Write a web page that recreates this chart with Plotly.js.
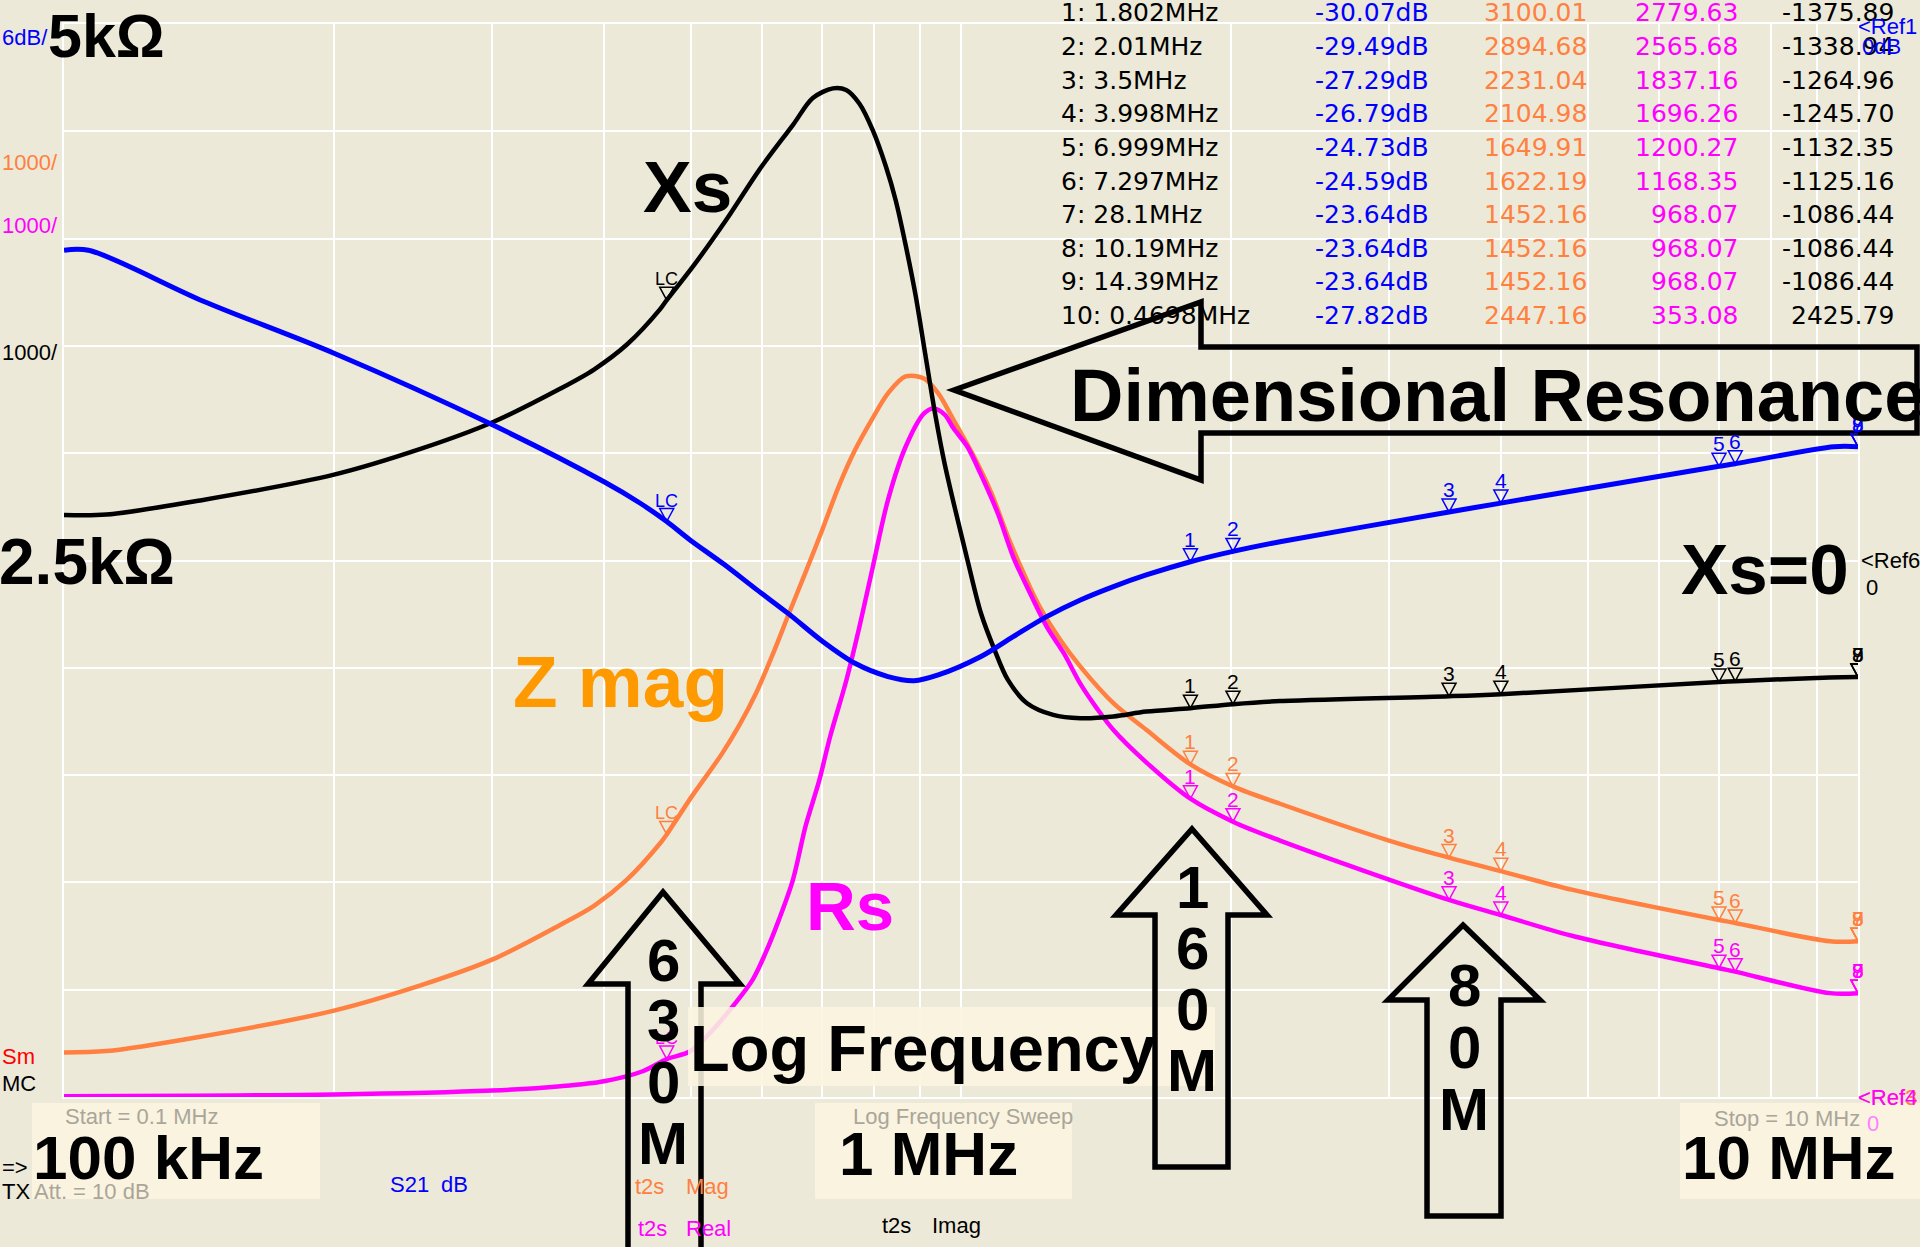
<!DOCTYPE html>
<html><head><meta charset="utf-8">
<script src="https://cdn.plot.ly/plotly-3.0.1.min.js"></script>
<style>html,body{margin:0;padding:0;background:#ECE9D8;}#chart{width:1920px;height:1247px;}</style>
</head><body><div id="chart"></div>
<script>
// ---------------- data ----------------
const FREQ_S21 = [0.1, 0.1065, 0.143, 0.2, 0.3, 0.4, 0.439, 0.4698, 0.4988, 0.5437, 0.5908, 0.6431, 0.7, 0.7618, 0.829, 0.8865, 0.9433, 1.0526, 1.1433, 1.246, 1.3587, 1.479, 1.609, 1.802, 2.01, 2.268, 3.5, 3.998, 6.999, 7.297, 9.4, 10];
const S21_DB   = [-12.65, -12.65, -15.5, -18.41, -22.4, -25.6, -26.8, -27.82, -28.85, -30.2, -31.6, -33.0, -34.5, -35.75, -36.49, -36.72, -36.4, -35.37, -34.26, -33.14, -32.21, -31.46, -30.81, -30.07, -29.49, -28.95, -27.29, -26.79, -24.73, -24.59, -23.64, -23.64];

const FREQ_ZMAG = [0.1, 0.1115, 0.1419, 0.2, 0.2497, 0.3, 0.3577, 0.3898, 0.4245, 0.4622, 0.4698, 0.5, 0.5415, 0.5665, 0.5908, 0.6164, 0.6431, 0.6709, 0.7, 0.7303, 0.7618, 0.7948, 0.829, 0.8675, 0.9095, 0.9433, 0.9813, 1.034, 1.0815, 1.128, 1.1745, 1.2235, 1.2905, 1.3587, 1.4786, 1.609, 1.802, 2.01, 2.268, 3.0, 3.5, 3.998, 4.81, 6.999, 7.297, 9.3, 10];
const ZMAG_OHM  = [415, 428, 562, 805, 1040, 1280, 1606, 1782, 2028, 2367, 2447, 2790, 3200, 3470, 3763, 4120, 4508, 4890, 5280, 5687, 6029, 6308, 6557, 6715, 6696, 6557, 6308, 5966, 5626, 5222, 4881, 4570, 4260, 4011, 3670, 3422, 3100, 2895, 2733, 2390, 2231, 2105, 1930, 1650, 1622, 1452, 1452];

const FREQ_RS = [0.1, 0.2, 0.3, 0.3577, 0.4, 0.4418, 0.4698, 0.4991, 0.525, 0.5566, 0.5859, 0.6055, 0.6267, 0.6497, 0.6709, 0.695, 0.7147, 0.7447, 0.7706, 0.7975, 0.829, 0.8675, 0.9095, 0.932, 0.959, 0.9813, 1.0167, 1.0526, 1.099, 1.143, 1.194, 1.246, 1.302, 1.3587, 1.418, 1.479, 1.609, 1.802, 2.01, 2.268, 3.5, 3.998, 4.81, 6.999, 7.297, 9.3, 10];
const RS_OHM  = [7, 23, 60, 100, 147, 240, 353, 426, 597, 845, 1094, 1343, 1653, 2026, 2522, 2950, 3360, 3877, 4384, 4942, 5563, 6060, 6371, 6417, 6360, 6230, 6060, 5800, 5440, 5037, 4695, 4384, 4136, 3850, 3620, 3420, 3119, 2780, 2566, 2390, 1837, 1696, 1500, 1200, 1168, 968, 968];

const FREQ_XS = [0.1, 0.1115, 0.1419, 0.2, 0.2497, 0.3, 0.3577, 0.3898, 0.4245, 0.4622, 0.4698, 0.5036, 0.5484, 0.5969, 0.6497, 0.6836, 0.7197, 0.7447, 0.7706, 0.7975, 0.825, 0.8456, 0.8675, 0.89, 0.912, 0.9355, 0.959, 1.0167, 1.0526, 1.09, 1.128, 1.1846, 1.267, 1.3587, 1.4786, 1.609, 1.802, 2.01, 2.268, 3.5, 3.998, 6.999, 7.297, 9.3, 10];
const XS_OHM  = [424, 428, 560, 800, 1040, 1286, 1603, 1780, 2015, 2345, 2426, 2750, 3185, 3650, 4060, 4310, 4400, 4385, 4257, 4008, 3667, 3357, 2940, 2470, 1930, 1371, 900, 5, -492, -833, -1113, -1330, -1439, -1470, -1454, -1408, -1376, -1339, -1310, -1265, -1246, -1132, -1125, -1090, -1086];

// marker table
const MK_NAME = ['1','2','3','4','5','6','7','8','9','10'];
const MK_FREQ = [1.802, 2.01, 3.5, 3.998, 6.999, 7.297, 28.1, 10.19, 14.39, 0.4698];
const MK_S21  = [-30.07, -29.49, -27.29, -26.79, -24.73, -24.59, -23.64, -23.64, -23.64, -27.82];
const MK_ZMAG = [3100.01, 2894.68, 2231.04, 2104.98, 1649.91, 1622.19, 1452.16, 1452.16, 1452.16, 2447.16];
const MK_RS   = [2779.63, 2565.68, 1837.16, 1696.26, 1200.27, 1168.35, 968.07, 968.07, 968.07, 353.08];
const MK_XS   = [-1375.89, -1338.94, -1264.96, -1245.70, -1132.35, -1125.16, -1086.44, -1086.44, -1086.44, 2425.79];

const GRID_F = [0.1,0.2,0.3,0.4,0.5,0.6,0.7,0.8,0.9,1,2,3,4,5,6,7,8,9,10];

// ---------------- styling ----------------
const BG = '#ECE9D8', BLUE = '#0000FF', ORANGE = '#FF8040', MAGENTA = '#FF00FF', BLACK = '#000000', GRAY = '#A9A699', RED = '#FF0000';
const FN = 'Liberation Sans, Arial, sans-serif';
const FT = 'DejaVu Sans, sans-serif';
const FB = 'Liberation Sans, Arial, sans-serif';
const L = 64, R = 1858, T = 24, B = 1097;
const PW = R - L, PH = B - T;
const px = x => (x - L) / PW;
const py = y => (B - y) / PH;

function lab(text, x, y, size, color, family, xanchor) {
  return {xref:'paper', yref:'paper', x:px(x), y:py(y), xanchor:xanchor||'left', yanchor:'middle',
    text:text, showarrow:false, borderpad:0, font:{family:family||FN, size:size, color:color}};
}
function pxPath(pts) {
  return pts.map((p,i)=>(i?'L':'M')+(p[0]-L)+','+(B-p[1])).join(' ') + ' Z';
}
function pxShape(pts, lineColor, lineWidth, fill) {
  return {type:'path', xref:'paper', yref:'paper', xsizemode:'pixel', ysizemode:'pixel', xanchor:0, yanchor:0,
    path:pxPath(pts), line:{color:lineColor, width:lineWidth}, fillcolor:fill||'rgba(0,0,0,0)', layer:'above'};
}
function box(x0,y0,x1,y1,fill){ return pxShape([[x0,y0],[x1,y0],[x1,y1],[x0,y1]], 'rgba(0,0,0,0)', 0, fill); }

// ---------------- traces ----------------
const sp = w => ({width:w, shape:'spline', smoothing:0.9});
const traces = [
  {x:FREQ_S21, y:S21_DB, yaxis:'y3', mode:'lines', line:Object.assign({color:BLUE}, sp(5)), hoverinfo:'skip'},
  {x:FREQ_ZMAG, y:ZMAG_OHM, yaxis:'y', mode:'lines', line:Object.assign({color:ORANGE}, sp(4.5)), hoverinfo:'skip'},
  {x:FREQ_RS, y:RS_OHM, yaxis:'y', mode:'lines', line:Object.assign({color:MAGENTA}, sp(4.5)), hoverinfo:'skip'},
  {x:FREQ_XS, y:XS_OHM, yaxis:'y2', mode:'lines', line:Object.assign({color:BLACK}, sp(4.5)), hoverinfo:'skip'}
];

// ---------------- shapes ----------------
const CREAM = 'rgba(251,244,224,0.88)';
const shapes = [];
shapes.push(pxShape([[663,892],[740,984],[701,984],[701,1262],[628,1262],[628,984],[588,984]], BLACK, 5.5));
shapes.push(box(688,1007,1215,1086,CREAM));
shapes.push(pxShape([[1192,829],[1267,915],[1228,915],[1228,1167],[1155,1167],[1155,915],[1116,915]], BLACK, 5.5));
shapes.push(pxShape([[1463,925],[1540,1000],[1501,1000],[1501,1216],[1427,1216],[1427,1000],[1388,1000]], BLACK, 5.5));
shapes.push(box(32,1103,320,1199,CREAM));
shapes.push(box(815,1103,1072,1199,CREAM));
shapes.push(box(1680,1103,1920,1199,CREAM));
shapes.push(pxShape([[954,390],[1201,302],[1201,347],[1917,347],[1917,433],[1201,433],[1201,480]], BLACK, 5.5));

const annotations = [];
const mkSets = [
  {vals:MK_S21, yref:'y3', color:BLUE},
  {vals:MK_ZMAG, yref:'y', color:ORANGE},
  {vals:MK_RS, yref:'y', color:MAGENTA},
  {vals:MK_XS, yref:'y2', color:BLACK}
];
mkSets.forEach(s => {
  for (let i = 0; i < MK_FREQ.length; i++) {
    const f = Math.min(MK_FREQ[i], 10);
    shapes.push({type:'path', xref:'x', yref:s.yref, xsizemode:'pixel', ysizemode:'pixel', xanchor:f, yanchor:s.vals[i],
      path:'M-7,13 L7,13 L0,0 Z', line:{color:s.color, width:1.5}, fillcolor:'rgba(0,0,0,0)', layer:'above'});
    annotations.push({xref:'x', yref:s.yref, x:Math.log10(f), y:s.vals[i], yanchor:'bottom', xanchor:'center', yshift:10,
      text:(i===9?'LC':MK_NAME[i]), showarrow:false, borderpad:0, font:{family:FN, size:(i===9?18:21), color:s.color}});
  }
});

// ---------------- marker table ----------------
for (let i = 0; i < MK_FREQ.length; i++) {
  const y = 13 + 33.6 * i;
  annotations.push(lab(MK_NAME[i] + ': ' + MK_FREQ[i] + 'MHz', 1060, y, 25, BLACK, FT));
  annotations.push(lab(MK_S21[i].toFixed(2) + 'dB', 1430, y, 25, BLUE, FT, 'right'));
  annotations.push(lab(MK_ZMAG[i].toFixed(2), 1588, y, 25, ORANGE, FT, 'right'));
  annotations.push(lab(MK_RS[i].toFixed(2), 1739, y, 25, MAGENTA, FT, 'right'));
  annotations.push(lab(MK_XS[i].toFixed(2), 1895, y, 25, BLACK, FT, 'right'));
}

// ---------------- small instrument labels ----------------
[
  ['6dB/',1,37,BLUE], ['1000/',1,162,ORANGE], ['1000/',1,225,MAGENTA], ['1000/',1,352,BLACK],
  ['Sm',1,1056,RED], ['MC',1,1083,BLACK], ['=&gt;',1,1167,BLACK], ['TX',1,1191,BLACK], ['Att. = 10 dB',33,1191,GRAY],
  ['Start = 0.1 MHz',64,1116,GRAY], ['S21',389,1184,BLUE], ['dB',440,1184,BLUE],
  ['t2s',634,1186,ORANGE], ['Mag',685,1186,ORANGE], ['t2s',637,1228,MAGENTA], ['Real',685,1228,MAGENTA],
  ['t2s',881,1225,BLACK], ['Imag',931,1225,BLACK], ['Log Frequency Sweep',852,1116,GRAY], ['Stop = 10 MHz',1713,1118,GRAY],
  ['&lt;Ref3',1857,1097,ORANGE], ['&lt;Ref4',1857,1097,MAGENTA], ['0',1866,1123,'#FF80FF'],
  ['&lt;Ref6',1860,560,BLACK], ['0',1865,587,BLACK], ['&lt;Ref1',1857,26,BLUE], ['0dB',1861,47,BLUE]
].forEach(a => annotations.push(lab(a[0], a[1], a[2], 22, a[3], FN)));

// ---------------- big annotation labels ----------------
[
  ['5kΩ',47,36,61,BLACK], ['2.5kΩ',-2,562,64,BLACK], ['Xs',642,186,73,BLACK], ['Z mag',512,681,73,'#FF9900'],
  ['Rs',805,906,69,MAGENTA], ['Xs=0',1680,569,71,BLACK], ['Dimensional Resonance',1069,395,74,BLACK],
  ['100 kHz',32,1157,62,BLACK], ['1 MHz',838,1153,62,BLACK], ['10 MHz',1681,1157,62,BLACK], ['Log Frequency',689,1048,65,BLACK]
].forEach(a => annotations.push(lab('<b>'+a[0]+'</b>', a[1], a[2], a[3], a[4], FB)));

[['6',960],['3',1021],['0',1082],['M',1143]].forEach(c => annotations.push(lab('<b>'+c[0]+'</b>', 663, c[1], 60, BLACK, FB, 'center')));
[['1',887],['6',948],['0',1009],['M',1070]].forEach(c => annotations.push(lab('<b>'+c[0]+'</b>', 1192, c[1], 60, BLACK, FB, 'center')));
[['8',985],['0',1047],['M',1109]].forEach(c => annotations.push(lab('<b>'+c[0]+'</b>', 1464, c[1], 60, BLACK, FB, 'center')));

// ---------------- layout ----------------
const hidden = {showgrid:false, showticklabels:false, zeroline:false, ticks:'', showline:false, fixedrange:true};
const layout = {
  width:1920, height:1247, paper_bgcolor:BG, plot_bgcolor:BG, showlegend:false,
  margin:{l:L, r:1920-R, t:T, b:1247-B, pad:0, autoexpand:false},
  xaxis:{type:'log', range:[-1,1], tickvals:GRID_F, showticklabels:false, ticks:'', showgrid:true, gridcolor:'#FFFFFF', gridwidth:2,
    zeroline:false, showline:true, mirror:true, linecolor:'#FFFFFF', linewidth:2, fixedrange:true},
  yaxis:{range:[0,10000], tick0:0, dtick:1000, showticklabels:false, ticks:'', showgrid:true, gridcolor:'#FFFFFF', gridwidth:2,
    zeroline:false, showline:true, mirror:true, linecolor:'#FFFFFF', linewidth:2, fixedrange:true},
  yaxis2:Object.assign({overlaying:'y', range:[-5000,5000]}, hidden),
  yaxis3:Object.assign({overlaying:'y', range:[-60,0]}, hidden),
  shapes:shapes, annotations:annotations
};
Plotly.newPlot('chart', traces, layout, {staticPlot:true, displayModeBar:false});
</script></body></html>
